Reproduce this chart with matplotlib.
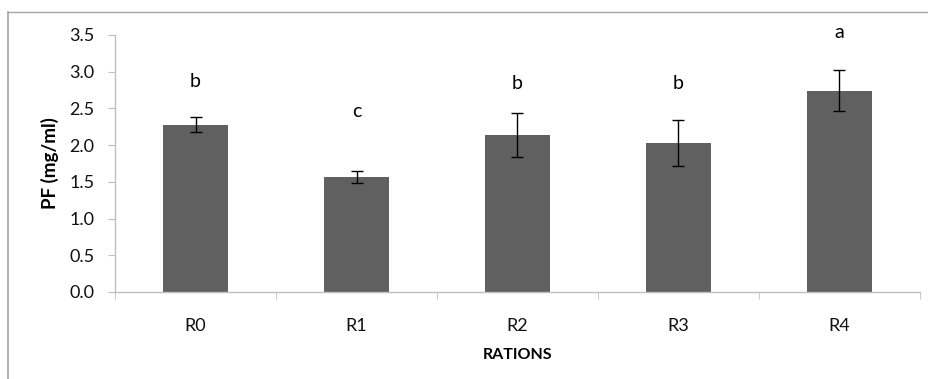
import matplotlib
matplotlib.use('Agg')
import matplotlib.pyplot as plt
from matplotlib.lines import Line2D

# data
rations = ['R0', 'R1', 'R2', 'R3', 'R4']
pf_mean = [2.28, 1.57, 2.14, 2.03, 2.74]
pf_err = [0.10, 0.08, 0.30, 0.31, 0.28]
letters = ['b', 'c', 'b', 'b', 'a']
letter_y = [2.87, 2.46, 2.84, 2.84, 3.53]

plt.rcParams['font.family'] = ['Lato', 'DejaVu Sans']

fig = plt.figure(figsize=(9.29, 3.79), dpi=100)
ax = fig.add_axes([0.1238, 0.2296, 0.8665, 0.6781])

x = list(range(len(rations)))
ax.bar(x, pf_mean, width=0.40, color='#606060', zorder=2)
ax.errorbar(x, pf_mean, yerr=pf_err, fmt='none', ecolor='black',
            elinewidth=1, capsize=4, capthick=1, zorder=3)

for xi, lab, ly in zip(x, letters, letter_y):
    ax.text(xi, ly, lab, ha='center', va='center', fontsize=14,
            color='black', clip_on=False)

ax.set_xlim(-0.5, 4.5)
ax.set_ylim(0, 3.5)
ax.set_yticks([i * 0.5 for i in range(8)])
ax.set_yticklabels([f'{i * 0.5:.1f}' for i in range(8)])
ax.set_xticks(x)
ax.set_xticklabels(rations)
ax.set_xticks([i - 0.5 for i in range(len(rations) + 1)], minor=True)

ax.tick_params(axis='x', which='major', length=0, pad=18.5, labelsize=13, labelcolor='#111111')
ax.tick_params(axis='x', which='minor', length=5, direction='out', color='#bfbfbf')
ax.tick_params(axis='y', length=5, direction='out', color='#bfbfbf', labelsize=13, labelcolor='#111111', pad=10)

for side in ['top', 'right']:
    ax.spines[side].set_visible(False)
for side in ['left', 'bottom']:
    ax.spines[side].set_color('#bfbfbf')
    ax.spines[side].set_linewidth(1)

ax.set_ylabel('PF (mg/ml)', fontsize=13.5, fontweight='bold', labelpad=7)
ax.set_xlabel('RATIONS', fontsize=11.5, fontweight='bold', labelpad=10)

# outer frame (top and left only)
fig.add_artist(Line2D([8 / 929, 1], [1 - 12 / 379, 1 - 12 / 379], color='#a6a6a6', lw=1))
fig.add_artist(Line2D([8 / 929, 8 / 929], [0, 1 - 12 / 379], color='#a6a6a6', lw=1.2))

fig.savefig('out.png', dpi=100)
